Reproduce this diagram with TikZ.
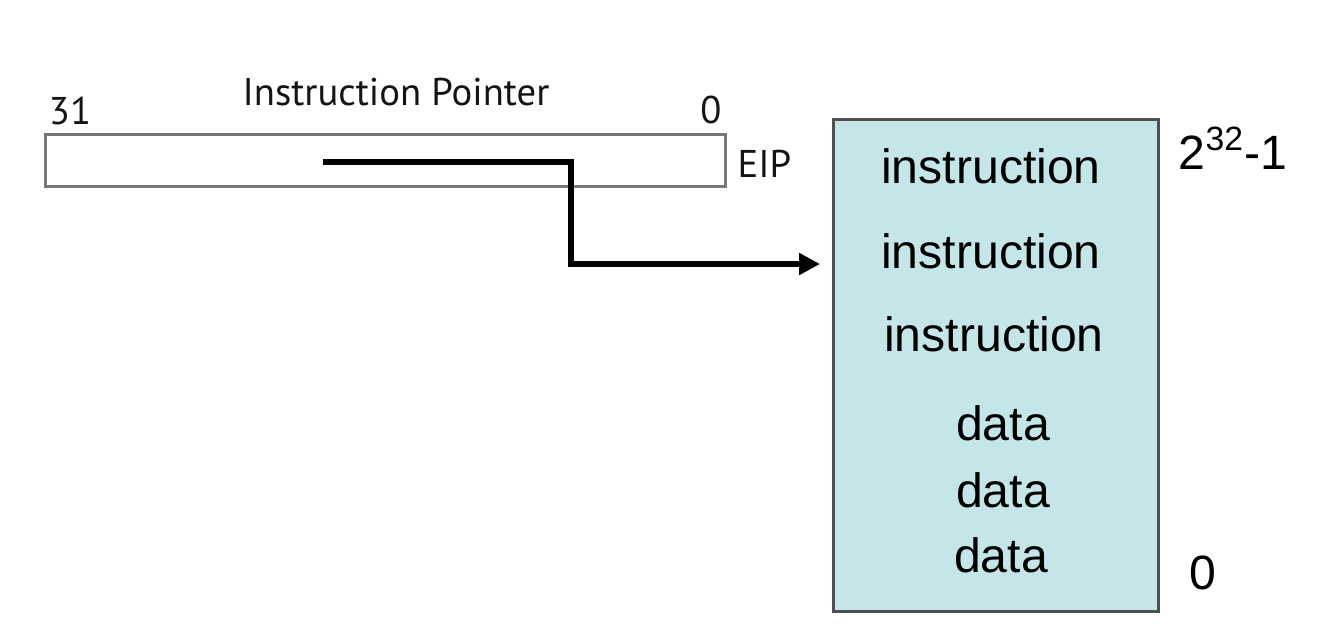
\documentclass[tikz,border=0pt]{standalone}
\usepackage{fontspec}
\setmainfont{Liberation Sans}
\newfontfamily\regfont{PT Sans}
\usepackage{tikz}
\usetikzlibrary{arrows.meta,calc}
\definecolor{CeldaMem}{RGB}{197,230,232}
\definecolor{BordeMem}{RGB}{80,80,80}
\definecolor{BordeReg}{RGB}{120,120,120}
\definecolor{TextoReg}{RGB}{20,20,20}
\tikzset{
  reglabel/.style={anchor=base,text=TextoReg,font=\regfont\fontsize{11}{13}\selectfont,inner sep=0pt},
  memlabel/.style={anchor=base,font=\fontsize{13.7}{16}\selectfont,inner sep=0pt},
  pointer/.style={-{Triangle[length=0.21cm,width=0.21cm]},line width=1.8pt}
}

\begin{document}
\begin{tikzpicture}[>=Latex]
  \useasboundingbox (0,0) rectangle (13.26,6.28);
  % registro EIP
  \node[draw=BordeReg,line width=0.8pt,minimum width=6.80cm,minimum height=0.52cm,inner sep=0pt,anchor=south west] (eip) at (0.44,4.40) {};
  \node[reglabel] (bit31) at (0.70,5.04) {31};
  \node[reglabel] (bit0) at (7.11,5.05) {0};
  \node[reglabel] (titulo) at (3.96,5.23) {Instruction Pointer};
  \node[reglabel,anchor=base west] (nombre) at (7.37,4.51) {EIP};
  % memoria
  \node[draw=BordeMem,fill=CeldaMem,line width=0.8pt,minimum width=3.25cm,minimum height=4.92cm,inner sep=0pt,anchor=south west] (mem) at (8.32,0.15) {};
  \node[memlabel] (ins1) at (9.91,4.45) {instruction};
  \node[memlabel] (ins2) at (9.91,3.60) {instruction};
  \node[memlabel] (ins3) at (9.94,2.77) {instruction};
  \node[memlabel] (dat1) at (10.03,1.88) {data};
  \node[memlabel] (dat2) at (10.03,1.21) {data};
  \node[memlabel] (dat3) at (10.01,0.56) {data};
  \node[memlabel,anchor=base west] (top) at (11.78,4.59) {2\textsuperscript{32}-1};
  \node[memlabel] (bottom) at (12.03,0.39) {0};
  % puntero
  \coordinate (ptr) at (3.23,4.66);
  \coordinate (tip) at (8.20,3.64);
  \draw[pointer] (ptr) -- (5.71,4.66) |- (tip);
\end{tikzpicture}
\end{document}
